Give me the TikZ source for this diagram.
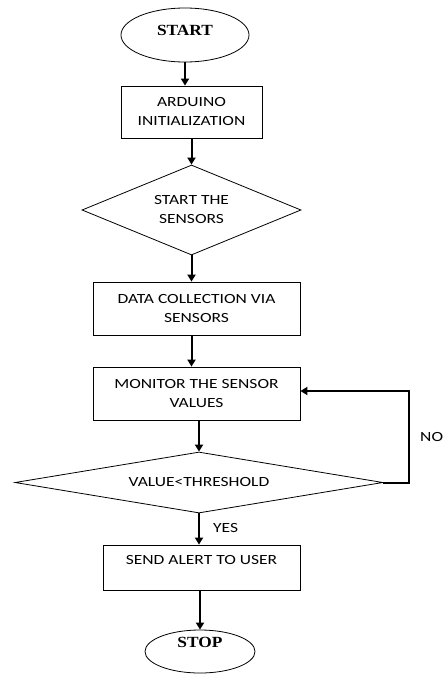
\documentclass[tikz,border=0pt]{standalone}
\usepackage{fontspec}
\usetikzlibrary{shapes.geometric,arrows.meta}
\newfontfamily\boxfont[FakeStretch=1.25]{Carlito}
\newfontfamily\termfont[FakeStretch=1.12]{Liberation Serif}
\begin{document}
\begin{tikzpicture}[x=1pt,y=-1pt,
  procbox/.style={draw, rectangle, line width=0.8pt, inner sep=0pt, align=center,
    font=\boxfont\fontsize{14}{19}\selectfont},
  terminal/.style={draw, ellipse, line width=0.8pt, inner sep=0pt,
    font=\termfont\bfseries\fontsize{15.5}{18}\selectfont},
  decide/.style={draw, diamond, line width=0.8pt, inner sep=0pt, align=center,
    font=\boxfont\fontsize{14}{19}\selectfont},
  flow/.style={line width=2pt, -{Triangle[length=7pt,width=8pt]}},
  tag/.style={font=\boxfont\fontsize{14}{17}\selectfont, inner sep=0pt, anchor=west}]
\useasboundingbox (0,0) rectangle (445,675);

% terminals, process boxes and decisions
\node[terminal, minimum width=128pt, minimum height=54pt, text height=10pt, text depth=10pt]
  (start) at (185,35) {START};
\node[procbox, minimum width=141pt, minimum height=52pt]
  (init) at (191.5,112) {ARDUINO\\INITIALIZATION};
\node[decide, minimum width=219pt, minimum height=90pt, shape aspect=2.43]
  (sensors) at (191.5,210) {START THE\\SENSORS};
\node[procbox, minimum width=207pt, minimum height=53pt]
  (collect) at (196.5,308.5) {DATA COLLECTION VIA\\SENSORS};
\node[procbox, minimum width=207pt, minimum height=53pt]
  (monitor) at (196.5,393.5) {MONITOR THE SENSOR\\VALUES};
\node[decide, minimum width=368pt, minimum height=61pt, shape aspect=6]
  (check) at (199,482.5) {VALUE<THRESHOLD};
\node[procbox, minimum width=197pt, minimum height=45pt, text height=9pt, text depth=15pt]
  (alert) at (201.5,567.5) {SEND ALERT TO USER};
\node[terminal, minimum width=110pt, minimum height=43pt, text height=11pt, text depth=19pt]
  (stop) at (200,651.5) {STOP};

% corners of the feedback loop
\coordinate (loopB) at (409,482.5);
\coordinate (loopT) at (409,391);

% connectors
\draw[flow] (start.south) -- (start.south |- init.north);
\draw[flow] (init.south) -- (sensors.north);
\draw[flow] (sensors.south) -- (sensors.south |- collect.north);
\draw[flow] (sensors.south |- collect.south) -- (sensors.south |- monitor.north);
\draw[flow] (check.north |- monitor.south) -- (check.north);
\draw[flow] (check.south) -- (check.south |- alert.north);
\draw[flow] (stop.north |- alert.south) -- (stop.north);
\draw[flow] (check.east) -- (loopB) -- (loopT) -- (loopT -| monitor.east);

% branch labels
\node[tag] (yes) at (213,528) {YES};
\node[tag] (no) at (420,437) {NO};
\end{tikzpicture}
\end{document}
